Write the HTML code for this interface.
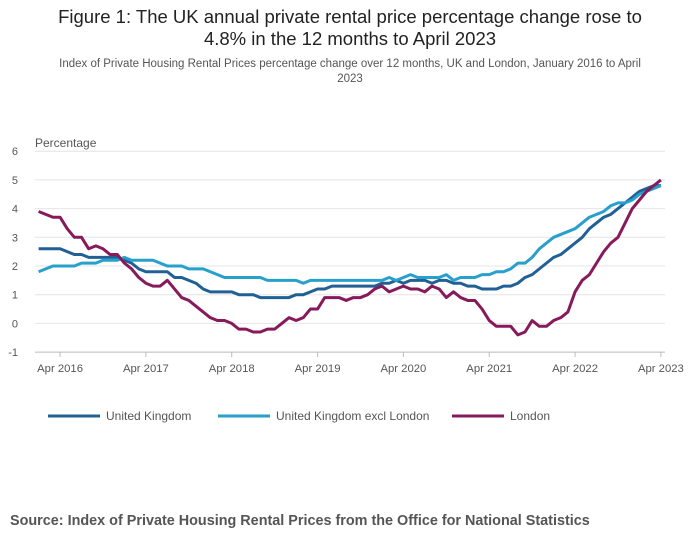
<!DOCTYPE html>
<html><head><meta charset="utf-8"><style>
body{margin:0;background:#fff;font-family:"Liberation Sans",sans-serif;}
#wrap{position:relative;width:700px;height:549px;overflow:hidden;}
.title{position:absolute;left:0;width:700px;top:6px;text-align:center;font-size:18.5px;color:#222;line-height:22px;}
.sub{position:absolute;left:20px;width:660px;top:57px;text-align:center;font-size:11.5px;color:#555;line-height:15px;}
.src{position:absolute;left:10px;top:513px;font-size:14.4px;font-weight:bold;color:#555;}
</style></head><body>
<div id="wrap">
<div class="title">Figure 1: The UK annual private rental price percentage change rose to<br>4.8% in the 12 months to April 2023</div>
<div class="sub">Index of Private Housing Rental Prices percentage change over 12 months, UK and London, January 2016 to April<br>2023</div>
<svg id="chart" width="700" height="549" style="position:absolute;left:0;top:0"></svg>
<div class="src">Source: Index of Private Housing Rental Prices from the Office for National Statistics</div>
</div>
<script>
const yTicks=[-1,0,1,2,3,4,5,6];
const xTickLabels=["Apr 2016","Apr 2017","Apr 2018","Apr 2019","Apr 2020","Apr 2021","Apr 2022","Apr 2023"];
const xTickIdx=[3,15,27,39,51,63,75,87];
const seriesNames=["United Kingdom","United Kingdom excl London","London"];
const ukValues=[2.6,2.6,2.6,2.6,2.5,2.4,2.4,2.3,2.3,2.3,2.3,2.3,
2.2,2.1,1.9,1.8,1.8,1.8,1.8,1.6,1.6,1.5,1.4,1.2,
1.1,1.1,1.1,1.1,1.0,1.0,1.0,0.9,0.9,0.9,0.9,0.9,
1.0,1.0,1.1,1.2,1.2,1.3,1.3,1.3,1.3,1.3,1.3,1.3,
1.4,1.4,1.5,1.4,1.5,1.5,1.5,1.4,1.5,1.5,1.4,1.4,
1.3,1.3,1.2,1.2,1.2,1.3,1.3,1.4,1.6,1.7,1.9,2.1,
2.3,2.4,2.6,2.8,3.0,3.3,3.5,3.7,3.8,4.0,4.2,4.4,
4.6,4.7,4.8,4.8];
const exLondonValues=[1.8,1.9,2.0,2.0,2.0,2.0,2.1,2.1,2.1,2.2,2.2,2.2,
2.3,2.2,2.2,2.2,2.2,2.1,2.0,2.0,2.0,1.9,1.9,1.9,
1.8,1.7,1.6,1.6,1.6,1.6,1.6,1.6,1.5,1.5,1.5,1.5,
1.5,1.4,1.5,1.5,1.5,1.5,1.5,1.5,1.5,1.5,1.5,1.5,
1.5,1.6,1.5,1.6,1.7,1.6,1.6,1.6,1.6,1.7,1.5,1.6,
1.6,1.6,1.7,1.7,1.8,1.8,1.9,2.1,2.1,2.3,2.6,2.8,
3.0,3.1,3.2,3.3,3.5,3.7,3.8,3.9,4.1,4.2,4.2,4.3,
4.5,4.6,4.7,4.8];
const londonValues=[3.9,3.8,3.7,3.7,3.3,3.0,3.0,2.6,2.7,2.6,2.4,2.4,
2.1,1.9,1.6,1.4,1.3,1.3,1.5,1.2,0.9,0.8,0.6,0.4,
0.2,0.1,0.1,0.0,-0.2,-0.2,-0.3,-0.3,-0.2,-0.2,0.0,0.2,
0.1,0.2,0.5,0.5,0.9,0.9,0.9,0.8,0.9,0.9,1.0,1.2,
1.3,1.1,1.2,1.3,1.2,1.2,1.1,1.3,1.2,0.9,1.1,0.9,
0.8,0.8,0.5,0.1,-0.1,-0.1,-0.1,-0.4,-0.3,0.1,-0.1,-0.1,
0.1,0.2,0.4,1.1,1.5,1.7,2.1,2.5,2.8,3.0,3.5,4.0,
4.3,4.6,4.8,5.0];
const colors=["#206095","#27a0cc","#871a5b"];
const NS="http://www.w3.org/2000/svg";
const svg=document.getElementById('chart');
const x=i=>38.6+i*7.153;
const y=v=>323.4-v*28.7;
function mk(t,a){const e=document.createElementNS(NS,t);for(const k in a)e.setAttribute(k,a[k]);svg.appendChild(e);return e;}
yTicks.forEach(v=>{
 const l=mk('line',{x1:35,x2:665,y1:y(v),y2:y(v),stroke:v===-1?'#bbb':'#e4e4e4','stroke-width':1});
 
 
 const t=mk('text',{x:18,y:y(v)+4,'font-size':11,fill:'#555','text-anchor':'end'});
 t.textContent=v;
 
 
});
const yt=mk('text',{x:35,y:147,'font-size':12,fill:'#555'});yt.textContent='Percentage';


xTickIdx.forEach((idx,k)=>{
 const l=mk('line',{x1:x(idx),x2:x(idx),y1:352,y2:357,stroke:'#bbb'});
 
 
 const t=mk('text',{x:x(idx),y:372,'font-size':11.3,fill:'#555','text-anchor':'middle'});
 t.textContent=xTickLabels[k];
 
 
});
[ukValues,exLondonValues,londonValues].forEach((vals,s)=>{
 const p=mk('polyline',{points:vals.map((v,i)=>x(i)+','+y(v)).join(' '),fill:'none',stroke:colors[s],'stroke-width':3,'stroke-linejoin':'round'});
 
 
});
const legX=[48,218,452];
seriesNames.forEach((n,s)=>{
 const l=mk('line',{x1:legX[s],x2:legX[s]+52,y1:416,y2:416,stroke:colors[s],'stroke-width':3});
 
 
 const t=mk('text',{x:legX[s]+58,y:420,'font-size':12,fill:'#555'});
 t.textContent=n;
 
 
});
</script>
</body></html>
